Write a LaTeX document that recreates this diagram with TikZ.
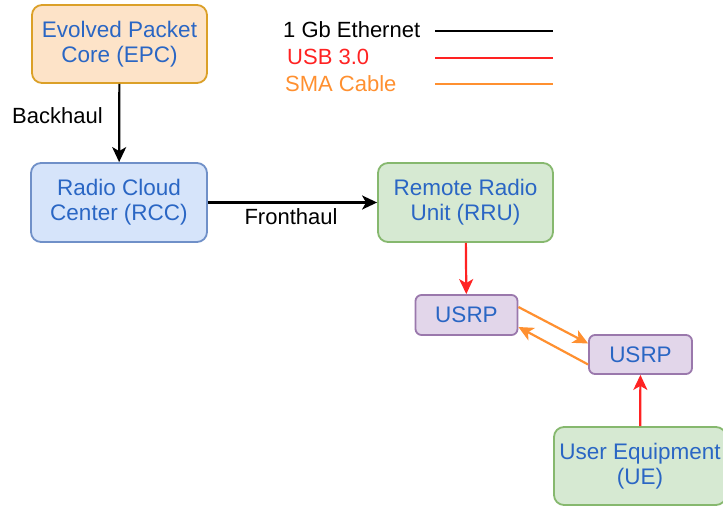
\documentclass[tikz,border=0pt]{standalone}
\usepackage{fontspec}
\setmainfont{Liberation Sans}
\usepackage{xcolor}
\usetikzlibrary{arrows.meta}
\definecolor{boxtext}{HTML}{2A66C4}
\definecolor{epcfill}{HTML}{FDE3C8}
\definecolor{epcline}{HTML}{DBA028}
\definecolor{rccfill}{HTML}{D6E4FA}
\definecolor{rccline}{HTML}{7090C8}
\definecolor{rrufill}{HTML}{D6E9D2}
\definecolor{rruline}{HTML}{86B86E}
\definecolor{usrpfill}{HTML}{E2D6EA}
\definecolor{usrpline}{HTML}{9A78AC}
\definecolor{usbred}{HTML}{FF2222}
\definecolor{smaorange}{HTML}{FF9030}
\tikzset{
  box/.style={draw, rounded corners=10pt, line width=1.8pt, align=center, text=boxtext, inner sep=0pt,
    font=\fontsize{22.5}{25}\selectfont},
  epcbox/.style={box, draw=epcline, fill=epcfill, minimum width=175pt, minimum height=78pt},
  rccbox/.style={box, draw=rccline, fill=rccfill, minimum width=176pt, minimum height=79pt},
  rrubox/.style={box, draw=rruline, fill=rrufill, minimum width=175pt, minimum height=79pt},
  usrpbox/.style={box, rounded corners=6pt, draw=usrpline, fill=usrpfill, minimum width=102pt, minimum height=40pt},
  tip/.style={-{Stealth[length=15pt,width=14pt,inset=4pt]}},
  eth/.style={draw=black, line width=2.2pt},
  usb/.style={draw=usbred, line width=2.2pt},
  sma/.style={draw=smaorange, line width=2.2pt},
  lab/.style={font=\fontsize{22}{25}\selectfont, inner sep=0pt},
}
\begin{document}
\begin{tikzpicture}[x=1pt, y=1pt]
  \useasboundingbox (0,0) rectangle (723,507);

  \node[epcbox] (epc) at (119.5,463) {Evolved Packet\\Core (EPC)};
  \node[rccbox] (rcc) at (119,304.5) {Radio Cloud\\Center (RCC)};
  \node[rrubox] (rru) at (465.5,304.5) {Remote Radio\\Unit (RRU)};
  \node[usrpbox] (usrpa) at (466.5,192) {USRP};
  \node[usrpbox, minimum width=103pt, minimum height=39pt] (usrpb) at (640.5,152.5) {USRP};
  \node[rrubox, minimum width=172pt, minimum height=78pt] (ue) at (640,41) {User Equipment\\(UE)};

  \draw[eth, tip] (epc) -- (rcc);
  \node[lab, anchor=west] (backhaul) at (12,391) {Backhaul};
  \draw[eth, tip] (rcc) -- (rru);
  \node[lab] (fronthaul) at (291,290) {Fronthaul};

  \draw[usb, tip] (rru) -- (usrpa);
  \draw[usb, tip] (ue) -- (usrpb);
  \draw[sma, tip] ([yshift=8pt]usrpa.east) -- ([yshift=11pt]usrpb.west);
  \draw[sma, tip] ([yshift=-10pt]usrpb.west) -- ([yshift=-12pt]usrpa.east);

  % legend
  \node[lab, anchor=west] (keyeth) at (283,477) {1 Gb Ethernet};
  \node[lab, anchor=west, text=usbred] (keyusb) at (287,450) {USB 3.0};
  \node[lab, anchor=west, text=smaorange] (keysma) at (285,423) {SMA Cable};
  \coordinate (etha) at (435,476); \coordinate (ethb) at (553,476);
  \coordinate (usba) at (435,449); \coordinate (usbb) at (553,449);
  \coordinate (smaa) at (435,423); \coordinate (smab) at (553,423);
  \draw[eth] (etha) -- (ethb);
  \draw[usb] (usba) -- (usbb);
  \draw[sma] (smaa) -- (smab);
\end{tikzpicture}
\end{document}
